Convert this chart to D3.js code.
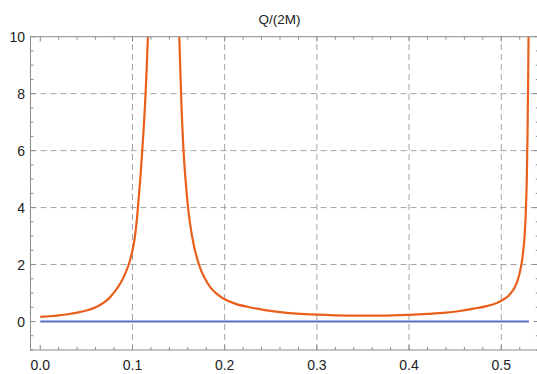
<!DOCTYPE html>
<html>
<head>
<meta charset="utf-8">
<script src="https://cdn.jsdelivr.net/npm/d3@7"></script>
<style>
  html, body { margin: 0; padding: 0; background: #fff; }
  svg { display: block; }
  text { font-family: "Liberation Sans", Arial, sans-serif; fill: #222; }
</style>
</head>
<body>
<svg id="chart" width="537" height="374"></svg>
<script>
// Q/(2M) — branch below the first pole (x, value)
const branch1X = [0, 0.01, 0.02, 0.03, 0.04, 0.05, 0.058, 0.0643, 0.07, 0.075, 0.0787, 0.083, 0.0865, 0.0896, 0.093, 0.0969, 0.1, 0.1023, 0.1042, 0.1059, 0.1102, 0.1142, 0.1167, 0.121];
const branch1Y = [0.16, 0.185, 0.215, 0.255, 0.31, 0.385, 0.47, 0.57, 0.69, 0.83, 0.97, 1.15, 1.32, 1.5, 1.75, 2.1, 2.5, 2.9, 3.4, 4.0, 5.8, 8.0, 10.0, 16.0];

// Q/(2M) — branch between the two poles
const branch2X = [0.1477, 0.1495, 0.1508, 0.1527, 0.1554, 0.1575, 0.1603, 0.1646, 0.1721, 0.1787, 0.1845, 0.1915, 0.2, 0.212, 0.227, 0.242, 0.258, 0.278, 0.3, 0.335, 0.37, 0.4, 0.42, 0.44, 0.455, 0.47, 0.485, 0.495, 0.5, 0.505, 0.5094, 0.5167, 0.5203, 0.5232, 0.5255, 0.5268, 0.5278, 0.5285, 0.5291, 0.5296, 0.5303];
const branch2Y = [16.0, 12.0, 10.0, 8.0, 6.0, 5.0, 4.0, 3.0, 2.0, 1.5, 1.2, 0.97, 0.78, 0.62, 0.5, 0.41, 0.34, 0.28, 0.24, 0.21, 0.21, 0.235, 0.265, 0.31, 0.37, 0.45, 0.55, 0.65, 0.73, 0.83, 0.96, 1.35, 1.75, 2.3, 3.1, 4.0, 5.2, 6.6, 8.3, 10.0, 14.0];

// Zero reference series
const zeroX = [0, 0.53];
const zeroY = [0, 0];

// Axis ticks
const xMajor = [0, 0.1, 0.2, 0.3, 0.4, 0.5];
const xLabels = ["0.0", "0.1", "0.2", "0.3", "0.4", "0.5"];
const yMajor = [0, 2, 4, 6, 8, 10];
const yLabels = ["0", "2", "4", "6", "8", "10"];
const xGrid = [0.1, 0.2, 0.3, 0.4, 0.5];
const yGrid = [2, 4, 6, 8];
const chartTitle = "Q/(2M)";

const svg = d3.select("#chart");
const x = d3.scaleLinear().domain([-0.0106, 0.5406]).range([30.5, 538.7]);
const y = d3.scaleLinear().domain([-1, 10]).range([350, 36.7]);

const [x0, x1] = x.range();
const [y0, y1] = y.range();

svg.append("defs").append("clipPath").attr("id", "plotClip")
  .append("rect").attr("x", x0).attr("y", y1).attr("width", x1 - x0).attr("height", y0 - y1);

// dashed grid
const grid = svg.append("g").attr("stroke", "#a3a3a3").attr("stroke-width", 1).attr("stroke-dasharray", "6,4");
grid.selectAll("line.vx").data(xGrid).join("line")
  .attr("x1", d => x(d)).attr("x2", d => x(d)).attr("y1", y0).attr("y2", y1);
grid.selectAll("line.hy").data(yGrid).join("line")
  .attr("y1", d => y(d)).attr("y2", d => y(d)).attr("x1", x0).attr("x2", x1);

// series
const plot = svg.append("g").attr("clip-path", "url(#plotClip)");
const line = d3.line().x(d => x(d[0])).y(d => y(d[1])).curve(d3.curveMonotoneX);

plot.append("path").datum(d3.zip(zeroX, zeroY))
  .attr("d", line).attr("fill", "none").attr("stroke", "#5a6fc8").attr("stroke-width", 2.2);
[d3.zip(branch1X, branch1Y), d3.zip(branch2X, branch2Y)].forEach(pts => {
  plot.append("path").datum(pts)
    .attr("d", line).attr("fill", "none").attr("stroke", "#e8601c").attr("stroke-width", 2.2)
    .attr("stroke-linejoin", "round");
});

// frame with inward ticks on all four sides
const xMinor = d3.range(-0.0, 0.541, 0.02).filter(v => !xMajor.some(m => Math.abs(m - v) < 1e-6));
const yMinor = d3.range(-1, 10.01, 0.5).filter(v => !yMajor.some(m => Math.abs(m - v) < 1e-6));
const frame = svg.append("g").attr("stroke", "#8c8c8c").attr("stroke-width", 1).attr("fill", "none");
frame.append("rect").attr("x", x0).attr("y", y1).attr("width", x1 - x0).attr("height", y0 - y1);

function xTicks(vals, len) {
  vals.forEach(v => {
    const px = x(v);
    frame.append("line").attr("x1", px).attr("x2", px).attr("y1", y0).attr("y2", y0 - len);
    frame.append("line").attr("x1", px).attr("x2", px).attr("y1", y1).attr("y2", y1 + len);
  });
}
function yTicks(vals, len) {
  vals.forEach(v => {
    const py = y(v);
    frame.append("line").attr("y1", py).attr("y2", py).attr("x1", x0).attr("x2", x0 + len);
    frame.append("line").attr("y1", py).attr("y2", py).attr("x1", x1).attr("x2", x1 - len);
  });
}
xTicks(xMajor, 5); xTicks(xMinor, 3);
yTicks(yMajor, 5); yTicks(yMinor, 3);

// tick labels
svg.append("g").selectAll("text").data(xMajor).join("text")
  .attr("x", d => x(d)).attr("y", 370).attr("text-anchor", "middle")
  .attr("font-size", 14).text((d, i) => xLabels[i]);
svg.append("g").selectAll("text").data(yMajor).join("text")
  .attr("x", 25).attr("y", d => y(d) + 5).attr("text-anchor", "end")
  .attr("font-size", 14).text((d, i) => yLabels[i]);

// title
svg.append("text").attr("x", 279.5).attr("y", 24).attr("text-anchor", "middle")
  .attr("font-size", 13.5).text(chartTitle);
</script>
</body>
</html>
